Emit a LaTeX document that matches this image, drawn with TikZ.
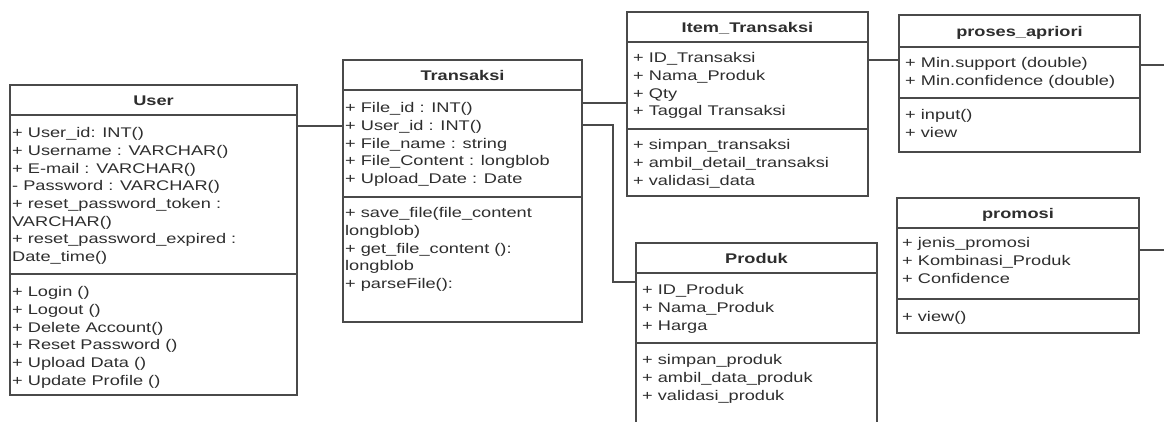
\documentclass[tikz,border=0pt]{standalone}
\usepackage{fontspec}
\setmainfont{Liberation Sans}[FakeStretch=1.3]
\definecolor{edge}{HTML}{4A4A4A}
\definecolor{ink}{HTML}{2E2E2E}
\begin{document}
\begin{tikzpicture}[x=1pt,y=-1pt,
 classbox/.style={draw=edge, line width=1.2pt, fill=white, inner sep=0pt},
 divline/.style={draw=edge, line width=1.2pt},
 assoc/.style={draw=edge, line width=1.2pt},
 ctitle/.style={font=\fontsize{14}{17.7}\selectfont\bfseries, text=ink, inner sep=0pt, anchor=base},
 members/.style={font=\fontsize{14}{17.7}\selectfont, text=ink, align=left, anchor=north west, inner sep=0pt}]
\useasboundingbox (0,0) rectangle (1164,421);
\clip (0,0) rectangle (1164,421);
\fill[white] (0,0) rectangle (1164,421);

% ---------- User ----------
\node[classbox, minimum width=287pt, minimum height=310pt] (user) at (153.5,240) {};
\draw[divline] (user.west |- 0,115) -- (user.east |- 0,115);
\draw[divline] (user.west |- 0,274) -- (user.east |- 0,274);
\node[ctitle] (userT) at (153.5,105) {User};
\node[members] (userA) at (12,125.1) {\strut+ User\_id: INT()\\+ Username : VARCHAR()\\+ E-mail : VARCHAR()\\- Password : VARCHAR()\\+ reset\_password\_token :\\VARCHAR()\\+ reset\_password\_expired :\\Date\_time()};
\node[members] (userM) at (12,284.1) {\strut+ Login ()\\+ Logout ()\\+ Delete Account()\\+ Reset Password ()\\+ Upload Data ()\\+ Update Profile ()};

% ---------- Transaksi ----------
\node[classbox, minimum width=239pt, minimum height=262pt] (trans) at (462.5,191) {};
\draw[divline] (trans.west |- 0,90) -- (trans.east |- 0,90);
\draw[divline] (trans.west |- 0,197) -- (trans.east |- 0,197);
\node[ctitle] (transT) at (462.5,80) {Transaksi};
\node[members] (transA) at (345,100.1) {\strut+ File\_id : INT()\\+ User\_id : INT()\\+ File\_name : string\\+ File\_Content : longblob\\+ Upload\_Date : Date};
\node[members] (transM) at (345,205.1) {\strut+ save\_file(file\_content\\longblob)\\+ get\_file\_content ():\\longblob\\+ parseFile():};

% ---------- Item_Transaksi ----------
\node[classbox, minimum width=241pt, minimum height=184pt] (item) at (747.5,104) {};
\draw[divline] (item.west |- 0,42) -- (item.east |- 0,42);
\draw[divline] (item.west |- 0,129) -- (item.east |- 0,129);
\node[ctitle] (itemT) at (747.5,32) {Item\_Transaksi};
\node[members] (itemA) at (633,50.1) {\strut+ ID\_Transaksi\\+ Nama\_Produk\\+ Qty\\+ Taggal Transaksi};
\node[members] (itemM) at (633,137.1) {\strut+ simpan\_transaksi\\+ ambil\_detail\_transaksi\\+ validasi\_data};

% ---------- proses_apriori ----------
\node[classbox, minimum width=241pt, minimum height=137pt] (apriori) at (1019.5,83.5) {};
\draw[divline] (apriori.west |- 0,47) -- (apriori.east |- 0,47);
\draw[divline] (apriori.west |- 0,98) -- (apriori.east |- 0,98);
\node[ctitle] (aprioriT) at (1019.5,36) {proses\_apriori};
\node[members] (aprioriA) at (905,55.1) {\strut+ Min.support (double)\\+ Min.confidence (double)};
\node[members] (aprioriM) at (905,107.1) {\strut+ input()\\+ view};

% ---------- promosi ----------
\node[classbox, minimum width=242pt, minimum height=135pt] (promo) at (1018,265.5) {};
\draw[divline] (promo.west |- 0,228) -- (promo.east |- 0,228);
\draw[divline] (promo.west |- 0,299) -- (promo.east |- 0,299);
\node[ctitle] (promoT) at (1018,218) {promosi};
\node[members] (promoA) at (902,235.1) {\strut+ jenis\_promosi\\+ Kombinasi\_Produk\\+ Confidence};
\node[members] (promoM) at (902,308.6) {\strut+ view()};

% ---------- Produk ----------
\node[classbox, minimum width=241pt, minimum height=200pt] (produk) at (756.5,343) {};
\draw[divline] (produk.west |- 0,273) -- (produk.east |- 0,273);
\draw[divline] (produk.west |- 0,343) -- (produk.east |- 0,343);
\node[ctitle] (produkT) at (756.5,263) {Produk};
\node[members] (produkA) at (642,282.1) {\strut+ ID\_Produk\\+ Nama\_Produk\\+ Harga};
\node[members] (produkM) at (642,352.1) {\strut+ simpan\_produk\\+ ambil\_data\_produk\\+ validasi\_produk};

% ---------- connectors ----------
\coordinate (lvA) at (0,126);
\coordinate (lvB) at (0,103);
\coordinate (lvC) at (0,125);
\coordinate (bend1) at (613,125);
\coordinate (bend2) at (613,282);
\coordinate (lvD) at (0,60);
\coordinate (outA) at (1164,65);
\coordinate (outB) at (1164,250);
\draw[assoc] (user.east |- lvA) -- (trans.west |- lvA);
\draw[assoc] (trans.east |- lvB) -- (item.west |- lvB);
\draw[assoc] (trans.east |- lvC) -- (bend1) -- (bend2) -- (produk.west |- bend2);
\draw[assoc] (item.east |- lvD) -- (apriori.west |- lvD);
\draw[assoc] (apriori.east |- outA) -- (outA);
\draw[assoc] (promo.east |- outB) -- (outB);
\end{tikzpicture}
\end{document}
